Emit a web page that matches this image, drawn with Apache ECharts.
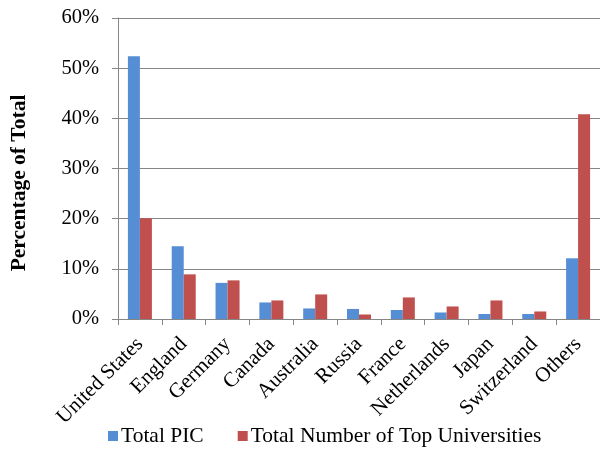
<!DOCTYPE html>
<html>
<head>
<meta charset="utf-8">
<script src="https://cdn.jsdelivr.net/npm/echarts@6/dist/echarts.min.js"></script>
<style>html,body{margin:0;padding:0;background:#fff;}#c{width:600px;height:455px;}</style>
</head>
<body>
<div id="c"></div>
<script>
const categories = ["United States","England","Germany","Canada","Australia","Russia","France","Netherlands","Japan","Switzerland","Others"];
const totalPIC = [52.4, 14.5, 7.2, 3.3, 2.1, 2.0, 1.8, 1.3, 1.0, 1.0, 12.1];
const topUniversities = [20.1, 8.9, 7.7, 3.7, 4.9, 0.9, 4.3, 2.5, 3.7, 1.5, 40.8];
const yTicks = [0, 10, 20, 30, 40, 50, 60];
const seriesNames = ["Total PIC", "Total Number of Top Universities"];

const font = "'Liberation Serif', 'Times New Roman', serif";
const chart = echarts.init(document.getElementById('c'));
chart.setOption({
  animation: false,
  textStyle: { fontFamily: font },
  grid: { left: 118, right: 0, top: 18, bottom: 136, containLabel: false },
  legend: {
    bottom: 3, left: 103,
    itemWidth: 10, itemHeight: 10, itemGap: 34,
    icon: 'rect',
    textStyle: { fontFamily: font, fontSize: 21.5, color: '#000', padding: [0,0,0,-2] },
    data: seriesNames
  },
  graphic: [{
    type: 'text', x: 19, y: 183, rotation: Math.PI / 2,
    style: { text: 'Percentage of Total', font: "bold 21.5px 'Liberation Serif'", fill: '#000', textAlign: 'center', textVerticalAlign: 'middle' }
  }],
  xAxis: {
    type: 'category', data: categories,
    axisLine: { lineStyle: { color: '#868686', width: 1 } },
    axisTick: { show: true, length: 6, lineStyle: { color: '#868686' }, alignWithLabel: false },
    axisLabel: { rotate: 45, interval: 0, margin: 22, fontFamily: font, fontSize: 21, color: '#000' }
  },
  yAxis: {
    type: 'value', min: yTicks[0], max: yTicks[yTicks.length - 1], interval: 10,
    axisLine: { show: true, lineStyle: { color: '#868686', width: 1 } },
    axisTick: { show: true, length: 6, lineStyle: { color: '#868686' } },
    splitLine: { lineStyle: { color: '#868686', width: 1 } },
    axisLabel: { margin: 19, fontFamily: font, fontSize: 20.5, color: '#000', formatter: v => v + '%' }
  },
  series: [
    { name: seriesNames[0], type: 'bar', data: totalPIC, barWidth: 12, barGap: '0%', itemStyle: { color: '#558ED5' } },
    { name: seriesNames[1], type: 'bar', data: topUniversities, barWidth: 12, barGap: '0%', itemStyle: { color: '#C0504D' } }
  ]
});
</script>
</body>
</html>
